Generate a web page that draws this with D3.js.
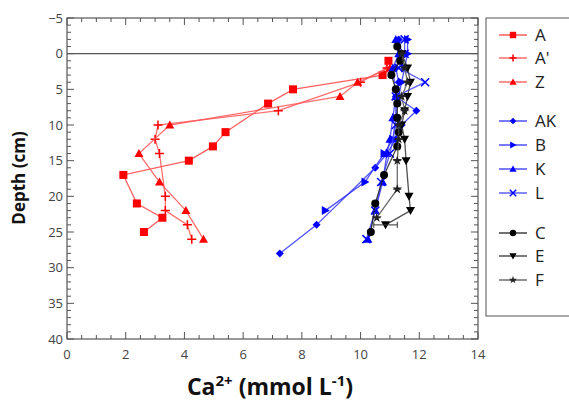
<!DOCTYPE html>
<html>
<head>
<meta charset="utf-8">
<script src="https://cdn.jsdelivr.net/npm/d3@7"></script>
<style>
  body { margin: 0; background: #fff; }
  text { font-family: "Open Sans", "DejaVu Sans", sans-serif; }
</style>
</head>
<body>
<script>
"use strict";

// ----------------------------------------
//  Data  [Ca2+ mmol/L, depth cm]
// ----------------------------------------
const seriesNames = ["A", "A'", "Z", "AK", "B", "K", "L", "C", "E", "F"];

const dataA  = [[10.95,1],[10.75,3],[7.7,5],[6.85,7],[5.4,11],[4.97,13],[4.15,15],[1.92,17],[2.38,21],[3.25,23],[2.62,25]];
const dataA2 = [[10.9,2],[10.0,4],[7.2,8],[3.1,10],[3.0,12],[3.15,14],[3.35,20],[3.35,22],[4.1,24],[4.25,26]];
const dataZ  = [[11.0,2],[9.9,4],[9.3,6],[3.5,10],[2.45,14],[3.15,18],[4.05,22],[4.65,26]];

const dataAK = [[11.3,-2],[11.4,0],[11.2,2],[11.3,4],[11.2,6],[11.9,8],[11.4,10],[11.2,12],[10.9,14],[10.5,16],[8.5,24],[7.25,28]];
const dataB  = [[11.6,-2],[11.6,0],[11.5,2],[11.4,4],[11.3,6],[11.2,9],[11.1,12],[10.8,14],[10.15,18],[8.8,22]];
const dataK  = [[11.2,-2],[11.3,0],[11.1,2],[11.2,6],[11.1,9],[11.0,12],[10.9,14],[10.75,18],[10.5,22],[10.25,26]];
const dataL  = [[11.5,-2],[11.5,0],[11.3,2],[12.2,4],[11.2,6],[11.2,10],[11.0,14],[10.7,18],[10.5,22],[10.2,26]];

const dataC  = [[11.25,-1],[11.35,1],[11.05,3],[11.2,5],[11.25,7],[11.25,9],[11.3,11],[11.25,13],[10.8,17],[10.5,21],[10.35,25]];
const dataE  = [[11.4,0],[11.6,2],[11.7,4],[11.6,6],[11.5,8],[11.4,10],[11.5,12],[11.55,15],[11.65,20],[11.7,22],[10.85,24]];
const dataF  = [[11.4,0],[11.5,2],[11.6,4],[11.4,6],[11.5,8],[11.3,10],[11.3,12],[11.25,15],[11.25,19],[10.55,23]];

// horizontal error bars that are visible [x, depth, half-width]
const errE = [[10.85, 24, 0.4]];

const xTicks = [0, 2, 4, 6, 8, 10, 12, 14];
const yTicks = [-5, 0, 5, 10, 15, 20, 25, 30, 35, 40];

const series = [
  { name: "A",  data: dataA,  color: "#ff0000", line: "#ff4444", marker: "square" },
  { name: "A'", data: dataA2, color: "#ff0000", line: "#ff5555", marker: "plus" },
  { name: "Z",  data: dataZ,  color: "#ff0000", line: "#ff5555", marker: "triangle" },
  { name: "AK", data: dataAK, color: "#0000ff", line: "#3333ff", marker: "diamond" },
  { name: "B",  data: dataB,  color: "#0000ff", line: "#3333ff", marker: "right" },
  { name: "K",  data: dataK,  color: "#0000ff", line: "#3333ff", marker: "triangle" },
  { name: "L",  data: dataL,  color: "#0000ff", line: "#4444ff", marker: "cross" },
  { name: "C",  data: dataC,  color: "#000000", line: "#222222", marker: "circle" },
  { name: "E",  data: dataE,  color: "#000000", line: "#333333", marker: "down" },
  { name: "F",  data: dataF,  color: "#222222", line: "#555555", marker: "star" }
];

// ----------------------------------------
//  Layout
// ----------------------------------------
const W = 569, H = 403;
const margin = { left: 67, right: 478, top: 18, bottom: 339 };

const svg = d3.select("body").append("svg")
  .attr("width", W).attr("height", H);

const x = d3.scaleLinear().domain([0, 14]).range([margin.left, margin.right]);
const y = d3.scaleLinear().domain([-5, 40]).range([margin.top, margin.bottom]);

// frame
svg.append("rect")
  .attr("x", margin.left).attr("y", margin.top)
  .attr("width", margin.right - margin.left).attr("height", margin.bottom - margin.top)
  .attr("fill", "none").attr("stroke", "#555").attr("stroke-width", 1.2);

// ticks (inward, mirrored)
const tickG = svg.append("g").attr("stroke", "#555").attr("stroke-width", 1);
d3.range(0, 14.01, 0.5).forEach(v => {
  const len = (v % 2 === 0) ? 7 : 4;
  tickG.append("line").attr("x1", x(v)).attr("x2", x(v)).attr("y1", margin.bottom).attr("y2", margin.bottom - len);
  tickG.append("line").attr("x1", x(v)).attr("x2", x(v)).attr("y1", margin.top).attr("y2", margin.top + len);
});
d3.range(-5, 40.01, 1).forEach(v => {
  const len = (v % 5 === 0) ? 7 : 4;
  tickG.append("line").attr("y1", y(v)).attr("y2", y(v)).attr("x1", margin.left).attr("x2", margin.left + len);
  tickG.append("line").attr("y1", y(v)).attr("y2", y(v)).attr("x1", margin.right).attr("x2", margin.right - len);
});

// tick labels
svg.append("g").selectAll("text").data(xTicks).join("text")
  .attr("x", d => x(d)).attr("y", margin.bottom + 20)
  .attr("text-anchor", "middle").attr("font-size", 13).attr("fill", "#444")
  .text(d => d);
svg.append("g").selectAll("text").data(yTicks).join("text")
  .attr("x", margin.left - 4).attr("y", d => y(d) + 4.5)
  .attr("text-anchor", "end").attr("font-size", 13).attr("fill", "#444")
  .text(d => d < 0 ? "\u2212" + Math.abs(d) : d);

// zero line
svg.append("line")
  .attr("x1", margin.left).attr("x2", margin.right).attr("y1", y(0)).attr("y2", y(0))
  .attr("stroke", "#555").attr("stroke-width", 1.2);

// axis titles
svg.append("text")
  .attr("x", 270).attr("y", 395)
  .attr("text-anchor", "middle").attr("font-size", 23).attr("font-weight", "bold").attr("fill", "#111")
  .html('Ca<tspan dy="-9" font-size="15">2+</tspan><tspan dy="9"> (mmol L</tspan><tspan dy="-9" font-size="15">-1</tspan><tspan dy="9">)</tspan>');
svg.append("text")
  .attr("transform", "translate(25," + 178 + ") rotate(-90)")
  .attr("text-anchor", "middle").attr("font-size", 17).attr("font-weight", "bold").attr("fill", "#111")
  .text("Depth (cm)");

// ----------------------------------------
//  Markers
// ----------------------------------------
function drawMarker(g, type, cx, cy, color, s) {
  s = s || 1;
  if (type === "square") {
    g.append("rect").attr("x", cx - 4 * s).attr("y", cy - 4 * s).attr("width", 8 * s).attr("height", 8 * s).attr("fill", color);
  } else if (type === "plus") {
    g.append("path").attr("d", `M${cx - 4.5 * s},${cy}H${cx + 4.5 * s}M${cx},${cy - 4.5 * s}V${cy + 4.5 * s}`)
      .attr("stroke", color).attr("stroke-width", 1.5).attr("fill", "none");
  } else if (type === "cross") {
    g.append("path").attr("d", `M${cx - 4 * s},${cy - 4 * s}L${cx + 4 * s},${cy + 4 * s}M${cx - 4 * s},${cy + 4 * s}L${cx + 4 * s},${cy - 4 * s}`)
      .attr("stroke", color).attr("stroke-width", 1.5).attr("fill", "none");
  } else if (type === "triangle") {
    g.append("path").attr("d", `M${cx},${cy - 4.5 * s}L${cx + 4.5 * s},${cy + 3.5 * s}L${cx - 4.5 * s},${cy + 3.5 * s}Z`).attr("fill", color);
  } else if (type === "down") {
    g.append("path").attr("d", `M${cx},${cy + 4.5 * s}L${cx + 4.5 * s},${cy - 3.5 * s}L${cx - 4.5 * s},${cy - 3.5 * s}Z`).attr("fill", color);
  } else if (type === "right") {
    g.append("path").attr("d", `M${cx + 4.5 * s},${cy}L${cx - 3.5 * s},${cy - 4.5 * s}L${cx - 3.5 * s},${cy + 4.5 * s}Z`).attr("fill", color);
  } else if (type === "diamond") {
    g.append("path").attr("d", `M${cx},${cy - 4 * s}L${cx + 4 * s},${cy}L${cx},${cy + 4 * s}L${cx - 4 * s},${cy}Z`).attr("fill", color);
  } else if (type === "circle") {
    g.append("circle").attr("cx", cx).attr("cy", cy).attr("r", 4 * s).attr("fill", color);
  } else if (type === "star") {
    g.append("path").attr("d", d3.symbol(d3.symbolStar, 30 * s * s)()).attr("transform", `translate(${cx},${cy})`).attr("fill", color);
    g.append("path").attr("d", `M${cx - 4 * s},${cy}H${cx + 4 * s}`).attr("stroke", color).attr("stroke-width", 1);
  }
}

// ----------------------------------------
//  Series
// ----------------------------------------
const line = d3.line().x(d => x(d[0])).y(d => y(d[1]));
const plotG = svg.append("g");
series.forEach(s => {
  const g = plotG.append("g");
  g.append("path").datum(s.data).attr("d", line)
    .attr("fill", "none").attr("stroke", s.line).attr("stroke-width", 1.3).attr("stroke-opacity", 0.85);
  s.data.forEach(d => drawMarker(g, s.marker, x(d[0]), y(d[1]), s.color, 1.0));
});

// error bars
errE.forEach(d => {
  const x0 = x(d[0] - d[2]), x1 = x(d[0] + d[2]), yy = y(d[1]);
  plotG.append("path")
    .attr("d", `M${x0},${yy}H${x1}M${x0},${yy - 3}V${yy + 3}M${x1},${yy - 3}V${yy + 3}`)
    .attr("stroke", "#333").attr("stroke-width", 1).attr("fill", "none");
});

// ----------------------------------------
//  Legend
// ----------------------------------------
const legendY = [35, 58, 82, 121, 145, 169, 193, 233, 256, 280];
svg.append("rect")
  .attr("x", 486).attr("y", 18).attr("width", 90).attr("height", 298)
  .attr("fill", "#fff").attr("stroke", "#555").attr("stroke-width", 1);
series.forEach((s, i) => {
  const g = svg.append("g");
  const ly = legendY[i];
  g.append("line").attr("x1", 499).attr("x2", 527).attr("y1", ly).attr("y2", ly)
    .attr("stroke", s.line).attr("stroke-width", 1.3);
  drawMarker(g, s.marker, 513, ly, s.color, 0.8);
  g.append("text").attr("x", 535).attr("y", ly + 6)
    .attr("font-size", 17).attr("fill", "#222").text(s.name);
});
</script>
</body>
</html>
